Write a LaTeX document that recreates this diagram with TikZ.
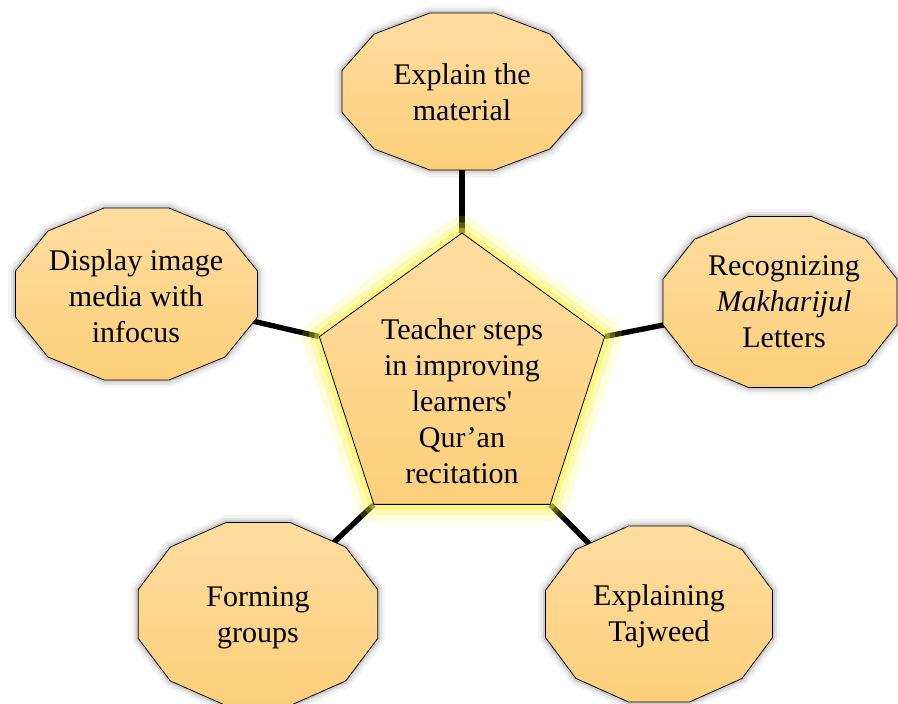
\documentclass[tikz,border=0pt]{standalone}
\usepackage{fontspec}
\setmainfont{Liberation Serif}
\usetikzlibrary{shapes.geometric,backgrounds}
\definecolor{goldtop}{HTML}{FEDDA0}
\definecolor{goldbottom}{HTML}{FDCF7A}
\definecolor{glow}{HTML}{F8F23C}
\tikzset{
  stage/.style={regular polygon, regular polygon sides=12, minimum size=155.3pt, inner sep=0pt,
    draw=black, line width=0.6pt, top color=goldtop, bottom color=goldbottom,
    preaction={draw=black, opacity=0.04, line width=11pt, line join=round},
    preaction={draw=black, opacity=0.07, line width=7pt, line join=round},
    preaction={draw=black, opacity=0.10, line width=3.5pt, line join=round}},
  hub/.style={regular polygon, regular polygon sides=5, minimum size=225pt, inner sep=0pt,
    draw=black, line width=0.6pt, top color=goldtop, bottom color=goldbottom,
    preaction={draw=glow, opacity=0.18, line width=26pt, line join=round},
    preaction={draw=glow, opacity=0.25, line width=16pt, line join=round},
    preaction={draw=glow, opacity=0.40, line width=8pt, line join=round}},
  caption/.style={align=center, inner sep=0pt, font=\fontsize{22.5}{27}\selectfont},
  link/.style={line width=4pt}
}
\begin{document}
\begin{tikzpicture}[x=0.75pt,y=-0.75pt]
\useasboundingbox (0,0) rectangle (898,703);
\node [hub] (core) at (462,383) {};
\node [caption] (coretext) at (462,401) {Teacher steps\\in improving\\learners\textquotesingle\\Qur’an\\recitation};
\node [stage, xscale=1.20, yscale=0.785] (topcell) at (462,91.5) {};
\node [stage, xscale=1.21, yscale=0.86] (leftcell) at (136.5,294) {};
\node [stage, xscale=1.17, yscale=0.855] (rightcell) at (780,302) {};
\node [stage, xscale=1.197, yscale=0.915] (blcell) at (258,614) {};
\node [stage, xscale=1.135, yscale=0.88] (brcell) at (659,614) {};
\node [caption] (material) at (462,92) {Explain the\\material};
\node [caption] (media) at (136,296) {Display image\\media with\\infocus};
\node [caption] (letters) at (784,302) {Recognizing\\\textit{Makharijul}\\Letters};
\node [caption] (groups) at (258,618) {Forming\\groups};
\node [caption] (tajweed) at (659,616) {Explaining\\Tajweed};
\begin{scope}[on background layer]
\draw [link] (core.corner 1) -- (topcell.center);
\draw [link] (core.corner 2) -- (leftcell.center);
\draw [link] (core.corner 3) -- (blcell.center);
\draw [link] (core.corner 4) -- (brcell.center);
\draw [link] (core.corner 5) -- (rightcell.center);
\end{scope}
\end{tikzpicture}
\end{document}
